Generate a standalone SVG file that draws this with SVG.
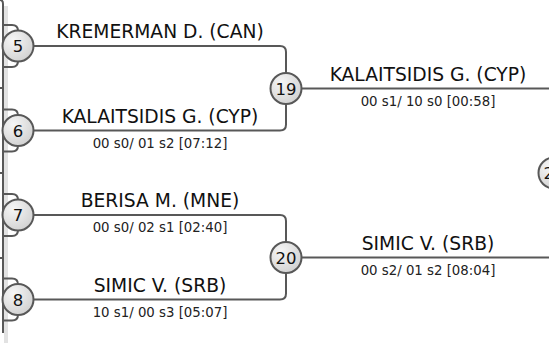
<svg xmlns="http://www.w3.org/2000/svg" width="549" height="343" viewBox="0 0 549 343">
<defs>
<radialGradient id="g" cx="0.35" cy="0.3" r="0.8">
<stop offset="0" stop-color="#f6f6f6"/>
<stop offset="1" stop-color="#cfcfcf"/>
</radialGradient>
<style>
.ln{fill:none;stroke:#585858;stroke-width:2}
.nd circle{fill:url(#g);stroke:#585858;stroke-width:2}
.num{font-family:"DejaVu Sans",sans-serif;font-size:16.5px;fill:#111;text-anchor:middle}
.name{font-family:"DejaVu Sans",sans-serif;font-size:18.7px;fill:#111;text-anchor:middle}
.sc{font-family:"DejaVu Sans",sans-serif;font-size:13.3px;fill:#222;text-anchor:middle}
</style>
</defs>
<rect x="4" y="6" width="4" height="337" fill="#e2e2e2"/>
<g id="connectors">
<path class="ln" d="M0 0 Q3 0 3 4 V333"/>
<path class="ln" d="M0 88 H3 M0 173 H3 M0 258 H3"/>
<path class="ln" d="M3 25 H12 Q18 25 18 31 M3 67 H12 Q18 67 18 61"/>
<path class="ln" d="M3 109.5 H12 Q18 109.5 18 115.5 M3 151.5 H12 Q18 151.5 18 145.5"/>
<path class="ln" d="M3 194 H12 Q18 194 18 200 M3 236 H12 Q18 236 18 230"/>
<path class="ln" d="M3 278.5 H12 Q18 278.5 18 284.5 M3 320.5 H12 Q18 320.5 18 314.5"/>
<path class="ln" d="M18 46 H280 Q286 46 286 52 V88.5 M18 130.5 H280 Q286 130.5 286 124.5 V88.5"/>
<path class="ln" d="M18 215 H280 Q286 215 286 221 V257.5 M18 299.5 H280 Q286 299.5 286 293.5 V257.5"/>
<path class="ln" d="M286 88.5 H549 M286 257.5 H549"/>
</g>
<g id="n5" class="nd"><circle cx="18" cy="46" r="15.5"/><text class="num" x="18" y="52">5</text></g>
<g id="n6" class="nd"><circle cx="18" cy="130.5" r="15.5"/><text class="num" x="18" y="136.5">6</text></g>
<g id="n7" class="nd"><circle cx="18" cy="215" r="15.5"/><text class="num" x="18" y="221">7</text></g>
<g id="n8" class="nd"><circle cx="18" cy="299.5" r="15.5"/><text class="num" x="18" y="305.5">8</text></g>
<g id="n19" class="nd"><circle cx="286" cy="88.5" r="15.5"/><text class="num" x="286" y="94.5">19</text></g>
<g id="n20" class="nd"><circle cx="286" cy="257.5" r="15.5"/><text class="num" x="286" y="263.5">20</text></g>
<g id="n21" class="nd"><circle cx="554" cy="173" r="15.5"/><text class="num" x="554" y="179">21</text></g>
<g id="labels">
<text class="name" x="160" y="38">KREMERMAN D. (CAN)</text>
<text class="name" x="160" y="122.5">KALAITSIDIS G. (CYP)</text>
<text class="sc" x="160" y="148">00 s0/ 01 s2 [07:12]</text>
<text class="name" x="160" y="207">BERISA M. (MNE)</text>
<text class="sc" x="160" y="232">00 s0/ 02 s1 [02:40]</text>
<text class="name" x="160" y="291.5">SIMIC V. (SRB)</text>
<text class="sc" x="160" y="317">10 s1/ 00 s3 [05:07]</text>
<text class="name" x="428" y="80.5">KALAITSIDIS G. (CYP)</text>
<text class="sc" x="428" y="106">00 s1/ 10 s0 [00:58]</text>
<text class="name" x="428" y="249.5">SIMIC V. (SRB)</text>
<text class="sc" x="428" y="275">00 s2/ 01 s2 [08:04]</text>
</g>
</svg>
